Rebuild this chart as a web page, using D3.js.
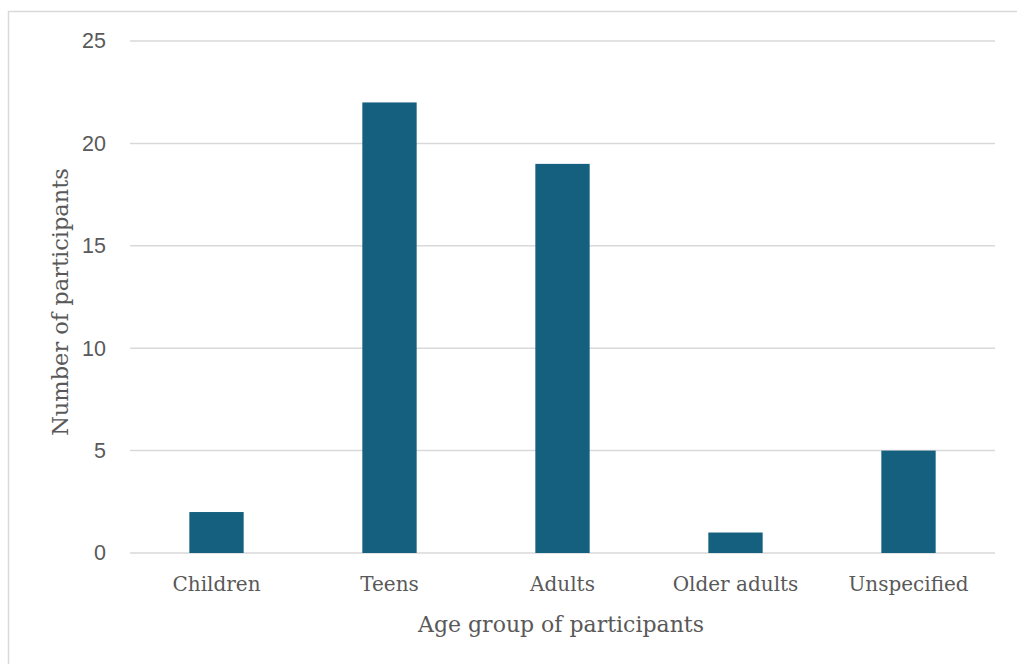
<!DOCTYPE html>
<html>
<head>
<meta charset="utf-8">
<script src="https://cdn.jsdelivr.net/npm/d3@7"></script>
<style>
html,body{margin:0;padding:0;background:#fff;overflow:hidden;}
</style>
</head>
<body>
<svg id="chart" width="1017" height="664"></svg>
<script>
const categories = ["Children", "Teens", "Adults", "Older adults", "Unspecified"];
const values = [2, 22, 19, 1, 5];
const yTicks = [0, 5, 10, 15, 20, 25];
const xTitle = "Age group of participants";
const yTitle = "Number of participants";

const svg = d3.select("#chart");
const m = {left: 130, right: 995, top: 41, bottom: 553};

svg.append("rect")
  .attr("x", 8.5).attr("y", 11.5)
  .attr("width", 1100).attr("height", 800)
  .attr("fill", "none").attr("stroke", "#d9d9d9").attr("stroke-width", 1.5);

const x = d3.scaleBand().domain(categories).range([m.left, m.right])
  .paddingInner(0.686).paddingOuter(0.343);
const y = d3.scaleLinear().domain([0, 25]).range([m.bottom, m.top]);

// gridlines
svg.append("g").selectAll("line").data(yTicks).join("line")
  .attr("x1", m.left).attr("x2", m.right)
  .attr("y1", d => y(d)).attr("y2", d => y(d))
  .attr("stroke", "#d9d9d9").attr("stroke-width", 1.5);

// y axis labels
const yAxis = d3.axisLeft(y).tickValues(yTicks).tickSize(0).tickPadding(0);
const gy = svg.append("g").attr("transform", `translate(106,0)`).call(yAxis);
gy.select(".domain").remove();
gy.selectAll("text")
  .attr("font-family", "'Liberation Sans', Arial, sans-serif")
  .attr("font-size", 21.5).attr("fill", "#595959");

// bars
svg.append("g").selectAll("rect").data(values).join("rect")
  .attr("x", (d, i) => x(categories[i]))
  .attr("width", x.bandwidth())
  .attr("y", d => y(d))
  .attr("height", d => y(0) - y(d))
  .attr("fill", "#155F7F");

// x axis labels
const xAxis = d3.axisBottom(x).tickSize(0).tickPadding(0);
const gx = svg.append("g").attr("transform", `translate(0,${m.bottom})`).call(xAxis);
gx.select(".domain").remove();
gx.selectAll("text")
  .attr("dy", null).attr("y", 38)
  .attr("font-family", "'DejaVu Serif', serif")
  .attr("font-size", 20).attr("fill", "#595959");

// titles
svg.append("text")
  .attr("x", 561).attr("y", 632)
  .attr("text-anchor", "middle")
  .attr("font-family", "'DejaVu Serif', serif")
  .attr("font-size", 22).attr("fill", "#595959")
  .text(xTitle);

svg.append("text")
  .attr("transform", "translate(68,302) rotate(-90)")
  .attr("text-anchor", "middle")
  .attr("font-family", "'DejaVu Serif', serif")
  .attr("font-size", 22.5).attr("fill", "#595959")
  .text(yTitle);
</script>
</body>
</html>
